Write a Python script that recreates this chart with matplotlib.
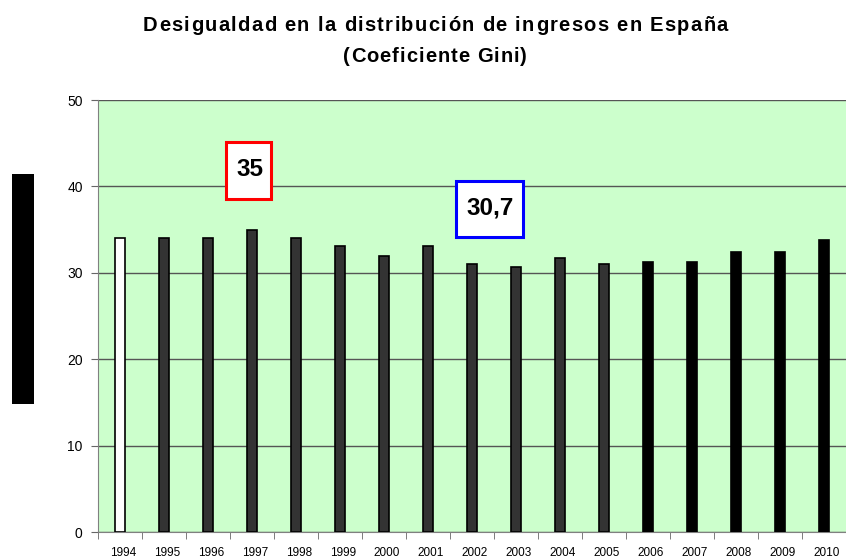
import matplotlib
matplotlib.use("Agg")
import matplotlib.pyplot as plt
import matplotlib.transforms as mtransforms
import numpy as np
from matplotlib.patches import Rectangle
from matplotlib import font_manager
from matplotlib.ft2font import FT2Font

years = ["1994", "1995", "1996", "1997", "1998", "1999", "2000", "2001", "2002",
         "2003", "2004", "2005", "2006", "2007", "2008", "2009", "2010"]
gini = [34.0, 34.0, 34.0, 35.0, 34.0, 33.1, 32.0, 33.1, 31.0,
        30.7, 31.7, 31.0, 31.3, 31.3, 32.4, 32.4, 33.8]
bar_colors = ["white"] + ["#333333"] * 11 + ["black"] * 5
yticks = [0, 10, 20, 30, 40, 50]
title_lines = ["Desigualdad en la distribución de ingresos en España", "(Coeficiente Gini)"]
label_max = "35"
label_min = "30,7"

plt.rcParams['font.family'] = ['Liberation Sans', 'DejaVu Sans']

W, H = 846, 560
DPI = 100
fig = plt.figure(figsize=(W / DPI, H / DPI), dpi=DPI)


def px(x, y):
    return x / W, 1 - y / H


ax = fig.add_axes([98 / W, 1 - 532 / H, (846 - 98) / W, (532 - 100) / H])
ax.set_facecolor("#CCFFCC")

x = np.arange(len(years))
ax.bar(x, gini, width=0.245, color=bar_colors, edgecolor="black", linewidth=1.2, zorder=3)
ax.set_xlim(-0.453, len(years) - 0.5)
ax.set_ylim(0, 50)
ax.set_yticks(yticks)
ax.set_yticklabels([str(v) for v in yticks], fontsize=10)
ax.yaxis.grid(True, color="#555555", linewidth=1)
ax.set_axisbelow(True)

ax.set_xticks(x)
ax.set_xticklabels(years, fontsize=8.5)
ax.tick_params(axis="x", length=0, pad=11)
shift = mtransforms.ScaledTranslation(3 / DPI, 0, fig.dpi_scale_trans)
for lbl in ax.get_xticklabels():
    lbl.set_transform(lbl.get_transform() + shift)
ax.set_xticks(np.arange(-0.5, len(years), 1), minor=True)
ax.tick_params(axis="x", which="minor", length=5, color="#666666")
ax.tick_params(axis="y", length=5, color="#666666", pad=6)
for s in ["top", "right"]:
    ax.spines[s].set_visible(False)
ax.spines["left"].set_color("#808080")
ax.spines["bottom"].set_color("#808080")

# Title with letter spacing (tracked text), fitted to the reference widths
fprop = font_manager.FontProperties(family="Liberation Sans", weight="bold")
fpath = font_manager.findfont(fprop)
ft = FT2Font(fpath)
title_size = 14.5
ft.set_size(title_size, DPI)


def advances(s):
    out = []
    for c in s:
        g = ft.load_char(ord(c))
        out.append(g.linearHoriAdvance / 65536.0)
    return out


# (left px, right px, baseline px)
line_specs = [(143, 728, 31), (343, 527, 62)]
for line, (left, right, base) in zip(title_lines, line_specs):
    adv = advances(line)
    natural = sum(adv)
    track = ((right - left) - natural) / max(len(line) - 1, 1)
    pen = left
    for c, a in zip(line, adv):
        if c != " ":
            fx, fy = px(pen, base)
            fig.text(fx, fy, c, fontsize=title_size, fontweight="bold",
                     ha="left", va="baseline")
        pen += a + track

# annotation boxes (pixel-located frames)
for (x0, y0, x1, y1), ec, txt, (tx, ty) in [
        ((226, 142, 271, 199), "red", label_max, (249.5, 169)),
        ((456, 181, 523, 237), "blue", label_min, (490.5, 208))]:
    fx0, fy1 = px(x0, y1)
    fig.patches.append(Rectangle((fx0, fy1), (x1 - x0) / W, (y1 - y0) / H,
                                 transform=fig.transFigure, facecolor="white",
                                 edgecolor=ec, linewidth=2.2, zorder=5))
    fx, fy = px(tx, ty)
    fig.text(fx, fy, txt, ha="center", va="center", fontsize=17.5,
             fontweight="bold", zorder=6)

# redacted y-label block
fx0, fy0 = px(12, 404)
fig.patches.append(Rectangle((fx0, fy0), 22 / W, 230 / H,
                             transform=fig.transFigure, facecolor="black", edgecolor="none"))

fig.savefig("out.png", dpi=DPI)
